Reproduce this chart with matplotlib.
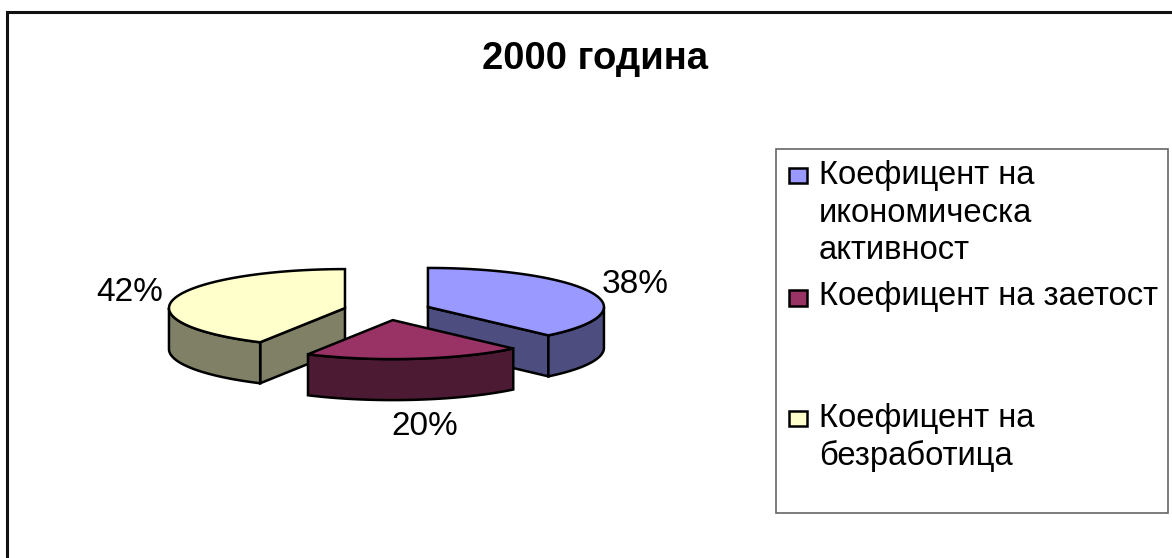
import numpy as np
import matplotlib
matplotlib.use('Agg')
import matplotlib.pyplot as plt
from matplotlib.patches import Polygon, Rectangle

plt.rcParams['font.family'] = ['Liberation Sans', 'DejaVu Sans']

title = '2000 година'
categories = ['Коефицент на\nикономическа\nактивност', 'Коефицент на заетост', 'Коефицент на\nбезработица']
values = [38, 20, 42]
colors_top = ['#9999FF', '#993366', '#FFFFCC']
colors_side = ['#4D4D80', '#4D1A33', '#808066']

# pie geometry in figure pixels
cx, cy = 387.3, 310.5
rx, ry = 176, 39
depth = 41
explode = 43.7

fig = plt.figure(figsize=(11.72, 5.58), dpi=100)
ax = fig.add_axes([0, 0, 1, 1])
ax.set_xlim(0, 1172)
ax.set_ylim(558, 0)
ax.axis('off')


def rim(x0, y0, a, b):
    t = np.radians(np.linspace(a, b, 80))
    return np.column_stack([x0 + rx*np.sin(t), y0 - ry*np.cos(t)])


def add_poly(pts, color, z):
    ax.add_patch(Polygon(pts, closed=True, facecolor=color, edgecolor='black',
                         linewidth=1.8, joinstyle='miter', zorder=z))


# clockwise from 12 o'clock
fr = np.array(values) / sum(values) * 360
starts = np.concatenate([[0], np.cumsum(fr)[:-1]])
ends = starts + fr

# yellow and blue go behind the maroon slice
for i, z in [(2, 2), (0, 3), (1, 4)]:
    a, b = starts[i], ends[i]
    mid = np.radians((a + b) / 2)
    x0 = cx + explode*np.sin(mid)
    y0 = cy - explode*np.cos(mid)*ry/rx
    top = rim(x0, y0, a, b)
    down = np.array([0, depth])
    apex = np.array([x0, y0])

    # cut faces
    if i == 0:
        add_poly([apex, top[-1], top[-1]+down, apex+down], colors_side[i], z)
        t = rim(x0, y0, 90, b)
        add_poly(np.vstack([t, (t+down)[::-1]]), colors_side[i], z)
    if i == 1:
        add_poly(np.vstack([top, (top+down)[::-1]]), colors_side[i], z)
    if i == 2:
        add_poly([apex, top[0], top[0]+down, apex+down], colors_side[i], z)
        t = rim(x0, y0, a, 270)
        add_poly(np.vstack([t, (t+down)[::-1]]), colors_side[i], z)
    add_poly(np.vstack([[apex], top]), colors_top[i], z + 0.5)

# outer frame, only left and top are inside the picture
ax.plot([7, 7, 1172], [558, 11.5, 11.5], color='#111111', lw=2.2, solid_joinstyle='miter', zorder=1)

ax.text(595.5, 59, title, fontsize=27.5, fontweight='bold', ha='center', va='center', color='black')

label_pos = [(635.5, 284.5), (424.5, 426.5), (130, 292.5)]
for v, (x, y) in zip(values, label_pos):
    ax.text(x, y, '%d%%' % v, fontsize=24, ha='center', va='center', color='black')

# legend
ax.add_patch(Rectangle((775.5, 148.5), 392, 364.5, facecolor='white', edgecolor='#666666', linewidth=1.2, zorder=1))
marker_y = [167.5, 290, 410.5]
text_y = [184, 305, 427.5]
for i, cat in enumerate(categories):
    ax.add_patch(Rectangle((789, marker_y[i]), 18, 15.5, facecolor=colors_top[i], edgecolor='black', linewidth=1.8, zorder=2))
    for j, line in enumerate(cat.split('\n')):
        ax.text(819, text_y[i] + j*37.5, line, fontsize=23.6, ha='left', va='baseline', color='black', zorder=3)

fig.savefig('out.png', dpi=100)
